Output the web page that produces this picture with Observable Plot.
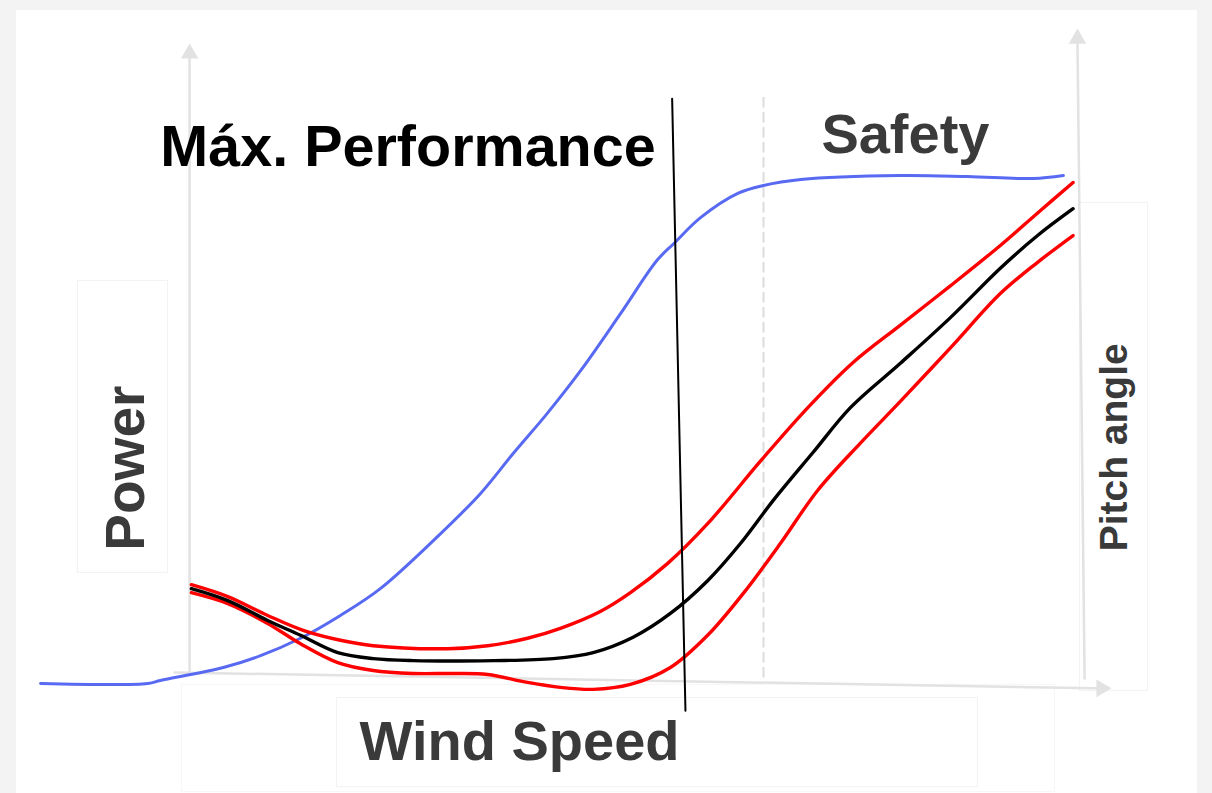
<!DOCTYPE html>
<html>
<head>
<meta charset="utf-8">
<script src="https://cdn.jsdelivr.net/npm/d3@7"></script>
<script src="https://cdn.jsdelivr.net/npm/@observablehq/plot@0.6"></script>
<style>
  html, body { margin: 0; padding: 0; width: 1212px; height: 793px; overflow: hidden; background: #f3f3f3; }
  #wrap { position: relative; width: 1212px; height: 793px; }
  .box { position: absolute; background: #fff; }
  .faint { position: absolute; border: 1px solid #f3f3f3; box-shadow: 0 0 2px rgba(0,0,0,0.02); }
  #chart { position: absolute; left: 0; top: 0; }
  #chart svg { background: transparent; max-width: none; display: block; }
</style>
</head>
<body>
<div id="wrap">
  <div class="box" style="left:16px;top:10px;width:1181px;height:783px;"></div>
  <div class="faint" style="left:77px;top:280px;width:89px;height:291px;"></div>
  <div class="faint" style="left:1079px;top:202px;width:67px;height:487px;"></div>
  <div class="faint" style="left:336px;top:697px;width:640px;height:88px;"></div>
  <div class="faint" style="left:181px;top:684px;width:872px;height:106px;border-color:#f7f7f7;"></div>
  <div id="chart"></div>
</div>
<script>
// Power curve (blue)
const powerX = [-16.9, -4.8, -3.4, 3.7, 7.9, 12.4, 16.9, 21.4, 28.2, 32.7, 36.4, 40.2, 44.0, 48.5, 52.6, 54.5, 57.5, 61.7, 64.6, 68.8, 80.0, 87.6, 95.0, 98.4];
const powerY = [-2.2, -2.2, -1.6, 1.0, 3.4, 6.9, 11.5, 16.9, 28.0, 36.1, 44.2, 52.2, 60.9, 72.4, 83.1, 86.5, 91.7, 96.6, 98.2, 99.4, 100.2, 100.0, 99.6, 100.2];

// Pitch angle curve (black)
const pitchX = [0.1, 4.2, 8.7, 12.4, 16.6, 20.6, 25.1, 34.2, 40.9, 45.4, 49.9, 54.1, 58.3, 62.0, 65.7, 70.2, 74.4, 80.0, 85.7, 91.3, 95.5, 99.5];
const pitchY = [16.9, 14.5, 10.5, 7.5, 4.0, 2.8, 2.4, 2.4, 2.8, 4.0, 7.1, 11.9, 18.5, 26.0, 34.7, 44.4, 53.4, 62.3, 71.6, 81.5, 88.1, 93.5];

// Upper band (red)
const upperX = [0.1, 4.2, 8.7, 12.7, 16.9, 20.6, 29.0, 33.5, 38.0, 41.7, 46.2, 49.6, 53.8, 58.3, 64.3, 69.6, 74.7, 80.0, 85.7, 91.3, 95.8, 99.5];
const upperY = [17.7, 15.3, 11.5, 8.5, 6.5, 5.4, 4.8, 5.4, 6.9, 8.9, 12.3, 16.1, 22.0, 30.0, 42.7, 53.4, 62.5, 70.0, 78.0, 86.1, 93.1, 98.8];

// Lower band (red)
const lowerX = [0.1, 4.2, 8.7, 12.4, 16.6, 20.6, 25.1, 29.7, 33.5, 38.0, 41.7, 45.4, 49.6, 54.1, 58.3, 62.3, 66.5, 70.7, 75.5, 80.0, 85.7, 91.3, 95.5, 99.5];
const lowerY = [16.1, 13.9, 9.9, 5.8, 2.0, 0.4, -0.2, -0.2, -0.4, -2.0, -3.0, -3.4, -2.4, 1.0, 7.5, 15.9, 26.0, 36.7, 46.2, 54.6, 65.5, 76.4, 82.7, 88.1];

// Region boundaries
const limitX = [54.3, 55.8];        // solid boundary (top, bottom)
const limitY = [115.7, -7.7];
const safetyX = [64.6, 64.6];       // dashed boundary
const safetyY = [115.9, -1.2];

// Axes (schematic, with arrow heads)
const leftAxisX = [-0.1, -0.1], leftAxisY = [0, 123.8];
const rightAxisX = [100.8, 100.0], rightAxisY = [-1.2, 126.8];
const bottomAxisX = [-1.8, 102.1], bottomAxisY = [0, -3.2];
const headX = [-0.1, 100.0, 102.7], headY = [124.8, 127.8, -3.2], headRot = [0, 0, 90];

// Labels
const labels = ["Máx. Performance", "Safety", "Wind Speed", "Power", "Pitch angle"];
const labelX = [-3.4, 80.6, 37.1, -5.2, 105.6];
const labelY = [102.2, 104.8, -17.7, 41.2, 45.4];

const zip = (xs, ys) => xs.map((x, i) => ({x, y: ys[i]}));
const power = zip(powerX, powerY);
const pitch = zip(pitchX, pitchY);
const upper = zip(upperX, upperY);
const lower = zip(lowerX, lowerY);
const heads = headX.map((x, i) => ({x, y: headY[i], r: headRot[i]}));
const lab = labels.map((t, i) => ({t, x: labelX[i], y: labelY[i]}));

const font = "'Liberation Sans', Arial, sans-serif";
const axisColor = "#e2e2e2";

const chart = Plot.plot({
  width: 1212,
  height: 793,
  marginLeft: 190,
  marginRight: 135,
  marginTop: 176,
  marginBottom: 121,
  style: {background: "transparent", overflow: "visible"},
  x: {domain: [0, 100], axis: null},
  y: {domain: [0, 100], axis: null},
  marks: [
    Plot.line(zip(leftAxisX, leftAxisY), {x: "x", y: "y", stroke: axisColor, strokeWidth: 2.5}),
    Plot.line(zip(rightAxisX, rightAxisY), {x: "x", y: "y", stroke: axisColor, strokeWidth: 2.5}),
    Plot.line(zip(bottomAxisX, bottomAxisY), {x: "x", y: "y", stroke: axisColor, strokeWidth: 2.5}),
    Plot.dot(heads, {x: "x", y: "y", rotate: "r", symbol: "triangle", r: 6.5, fill: axisColor, stroke: "none"}),
    Plot.line(zip(safetyX, safetyY), {x: "x", y: "y", stroke: "#dcdcdc", strokeWidth: 2, strokeDasharray: "9,6"}),
    Plot.line(power, {x: "x", y: "y", stroke: "#5869f2", strokeWidth: 3, curve: "catmull-rom", strokeLinejoin: "round"}),
    Plot.line(upper, {x: "x", y: "y", stroke: "#ff0000", strokeWidth: 3.4, curve: "catmull-rom", strokeLinejoin: "round"}),
    Plot.line(lower, {x: "x", y: "y", stroke: "#ff0000", strokeWidth: 3.4, curve: "catmull-rom", strokeLinejoin: "round"}),
    Plot.line(pitch, {x: "x", y: "y", stroke: "#000000", strokeWidth: 3.4, curve: "catmull-rom", strokeLinejoin: "round"}),
    Plot.line(zip(limitX, limitY), {x: "x", y: "y", stroke: "#000000", strokeWidth: 2}),
    Plot.text([lab[0]], {x: "x", y: "y", text: "t", textAnchor: "start", lineAnchor: "bottom", fontSize: 57.5, fontWeight: "bold", fontFamily: font, fill: "#000000"}),
    Plot.text([lab[1], lab[2]], {x: "x", y: "y", text: "t", textAnchor: "middle", lineAnchor: "bottom", fontSize: 56, fontWeight: "bold", fontFamily: font, fill: "#3a3a3a"}),
    Plot.text([lab[3]], {x: "x", y: "y", text: "t", textAnchor: "middle", lineAnchor: "bottom", rotate: -90, fontSize: 55, fontWeight: "bold", fontFamily: font, fill: "#3a3a3a"}),
    Plot.text([lab[4]], {x: "x", y: "y", text: "t", textAnchor: "middle", lineAnchor: "bottom", rotate: -90, fontSize: 39, fontWeight: "bold", fontFamily: font, fill: "#3a3a3a"})
  ]
});
document.getElementById("chart").appendChild(chart);
</script>
</body>
</html>
